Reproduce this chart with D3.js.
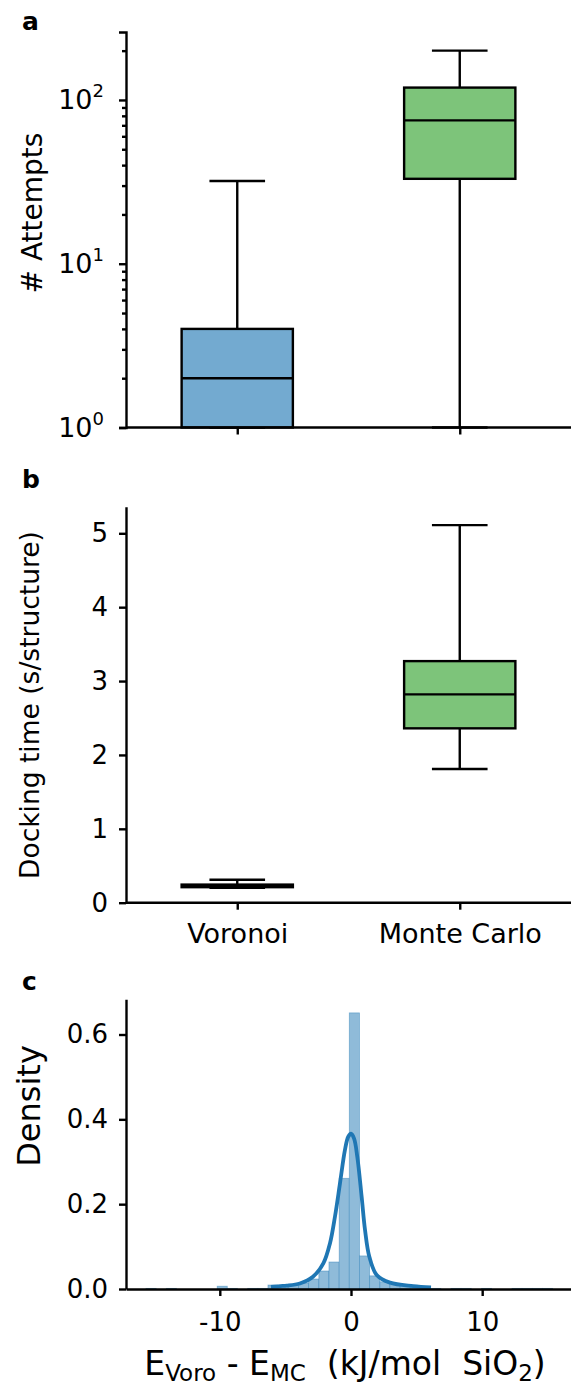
<!DOCTYPE html>
<html>
<head>
<meta charset="utf-8">
<script src="https://cdn.jsdelivr.net/npm/d3@7"></script>
<style>
  body { margin: 0; background: #fff; }
  text { font-family: "DejaVu Sans", sans-serif; fill: #000; white-space: pre; }
</style>
</head>
<body>
<script>
// ---- data ----
const categories = ["Voronoi", "Monte Carlo"];
// [whisker low, q1, median, q3, whisker high]
const attemptsVoronoi = [1, 1, 2, 4, 32];
const attemptsMonteCarlo = [1, 33, 75, 119, 200];
const timeVoronoi = [0.20, 0.21, 0.225, 0.245, 0.31];
const timeMonteCarlo = [1.81, 2.36, 2.82, 3.27, 5.11];

// histogram of E_Voro - E_MC (density), bin edges in kJ/mol SiO2
const binEdges = [-15.63, -14.85, -14.08, -13.30, -12.53, -11.75, -10.98, -10.20, -9.43, -8.65,
  -7.88, -7.10, -6.33, -5.55, -4.78, -4.00, -3.23, -2.45, -1.68, -0.90,
  -0.13, 0.65, 1.42, 2.20, 2.97, 3.75, 4.52, 5.30, 6.07, 6.85,
  7.62, 8.40, 9.17, 9.95, 10.72, 11.50, 12.27, 13.05, 13.82, 14.60, 15.37];
const binDensity = [0.0015, 0, 0.0015, 0, 0, 0, 0, 0.0066, 0.0015, 0,
  0.0015, 0.0015, 0.0094, 0.006, 0.008, 0.014, 0.0236, 0.0425, 0.0637, 0.261,
  0.651, 0.078, 0.031, 0.017, 0.010, 0.008, 0.005, 0.003, 0.0015, 0,
  0.0015, 0.0015, 0, 0.0015, 0, 0, 0.0015, 0.0015, 0.0015, 0.0015];
const kdeX = [-6.1, -5.4, -4.9, -3.9, -2.9, -2.1, -1.6, -1.22, -0.84, -0.46, -0.21, 0,
  0.23, 0.48, 0.81, 1.07, 1.4, 1.96, 2.97, 4.75, 6.1];
const kdeY = [0.005, 0.007, 0.008, 0.013, 0.029, 0.061, 0.108, 0.171, 0.249, 0.328, 0.359, 0.366,
  0.355, 0.312, 0.218, 0.139, 0.076, 0.033, 0.015, 0.007, 0.004];
const attemptTicks = [1, 10, 100];
const attemptExp = ["0", "1", "2"];
const attemptMinor = [2, 3, 4, 5, 6, 7, 8, 9, 20, 30, 40, 50, 60, 70, 80, 90, 200];
const timeTicks = [0, 1, 2, 3, 4, 5];
const densityTicks = [0, 0.2, 0.4, 0.6];
const energyTicks = [-10, 0, 10];

const W = 571, H = 1387;
const left = 126, right = 571;
const boxColors = ["#73aad0", "#7dc47a"];
const lw = 2.4;

const svg = d3.select("body").append("svg")
    .attr("width", W)
    .attr("height", H);

// shared x for the two box plots
const x = d3.scalePoint().domain(categories).range([left, right]).padding(0.5);
const boxW = x.step() * 0.5;
const capW = x.step() * 0.25;

function styleAxis(g) {
    g.selectAll("path.domain").attr("stroke", "#000").attr("stroke-width", lw);
    g.selectAll(".tick line").attr("stroke", "#000").attr("stroke-width", lw);
    g.selectAll(".tick text").attr("font-size", 26).attr("fill", "#000")
        .attr("font-family", "DejaVu Sans");
}

function drawBoxes(y, stats) {
    stats.forEach(function(s, i) {
        const cx = x(categories[i]);
        const g = svg.append("g");
        // whiskers
        g.append("line").attr("x1", cx).attr("x2", cx).attr("y1", y(s[0])).attr("y2", y(s[1]))
            .attr("stroke", "#000").attr("stroke-width", lw);
        g.append("line").attr("x1", cx).attr("x2", cx).attr("y1", y(s[3])).attr("y2", y(s[4]))
            .attr("stroke", "#000").attr("stroke-width", lw);
        // caps
        [s[0], s[4]].forEach(function(v) {
            g.append("line").attr("x1", cx - capW / 2).attr("x2", cx + capW / 2)
                .attr("y1", y(v)).attr("y2", y(v))
                .attr("stroke", "#000").attr("stroke-width", lw);
        });
        // box
        g.append("rect").attr("x", cx - boxW / 2).attr("width", boxW)
            .attr("y", y(s[3])).attr("height", y(s[1]) - y(s[3]))
            .attr("fill", boxColors[i]).attr("stroke", "#000").attr("stroke-width", lw);
        // median
        g.append("line").attr("x1", cx - boxW / 2).attr("x2", cx + boxW / 2)
            .attr("y1", y(s[2])).attr("y2", y(s[2]))
            .attr("stroke", "#000").attr("stroke-width", lw);
    });
}

function panelLetter(t, px, py) {
    svg.append("text").attr("x", px).attr("y", py).text(t)
        .attr("font-size", 25).attr("font-weight", "bold");
}

// ---- panel a: attempts (log) ----
const yA = d3.scaleLog().domain([1, 260]).range([427.5, 32]);
drawBoxes(yA, [attemptsVoronoi, attemptsMonteCarlo]);

const axA = svg.append("g").attr("transform", `translate(${left},0)`)
    .call(d3.axisLeft(yA).tickValues(attemptTicks).tickSize(7).tickFormat(""));
svg.append("g").attr("transform", `translate(${left},0)`)
    .call(d3.axisLeft(yA).tickValues(attemptMinor).tickSize(4).tickFormat(""))
    .call(styleAxis)
    .select("path.domain").remove();
styleAxis(axA);
attemptTicks.forEach(function(v, i) {
    const t = svg.append("text").attr("x", 104).attr("y", yA(v) + 9)
        .attr("text-anchor", "end").attr("font-size", 27);
    t.append("tspan").text("10");
    t.append("tspan").text(attemptExp[i]).attr("font-size", 18).attr("dy", -12);
});
const axAx = svg.append("g").attr("transform", `translate(0,${yA(1)})`)
    .call(d3.axisBottom(x).tickSize(7).tickSizeOuter(0).tickFormat(""));
styleAxis(axAx);
axAx.select("path.domain").attr("d", `M${left},0H${right}`);

svg.append("text").attr("transform", "translate(42,213) rotate(-90)")
    .attr("text-anchor", "middle").attr("font-size", 28).text("# Attempts");
panelLetter("a", 22, 30);

// ---- panel b: docking time ----
const yB = d3.scaleLinear().domain([0, 5.36]).range([902.7, 506.7]);
drawBoxes(yB, [timeVoronoi, timeMonteCarlo]);

const axB = svg.append("g").attr("transform", `translate(${left},0)`)
    .call(d3.axisLeft(yB).tickValues(timeTicks).tickSize(7).tickSizeOuter(0).tickPadding(11)
        .tickFormat(d3.format("d")));
styleAxis(axB);
const axBx = svg.append("g").attr("transform", `translate(0,${yB(0)})`)
    .call(d3.axisBottom(x).tickSize(7).tickSizeOuter(0));
styleAxis(axBx);
axBx.select("path.domain").attr("d", `M${left},0H${right}`);
axBx.selectAll(".tick text").attr("y", 21).attr("font-size", 27);

svg.append("text").attr("transform", "translate(39,705) rotate(-90)")
    .attr("text-anchor", "middle").attr("font-size", 26.5).text("Docking time (s/structure)");
panelLetter("b", 22, 488);

// ---- panel c: energy difference histogram ----
const xC = d3.scaleLinear().domain([-17.15, 16.77]).range([left, right]);
const yC = d3.scaleLinear().domain([0, 0.683]).range([1289, 999.3]);

svg.append("g").selectAll("rect").data(binDensity).join("rect")
    .attr("x", (d, i) => xC(binEdges[i]))
    .attr("width", (d, i) => xC(binEdges[i + 1]) - xC(binEdges[i]))
    .attr("y", d => yC(d))
    .attr("height", d => yC(0) - yC(d))
    .attr("fill", "#8fbbd9")
    .attr("stroke", "#1f77b4").attr("stroke-opacity", 0.45).attr("stroke-width", 0.8);

const kdeLine = d3.line()
    .x((d, i) => xC(kdeX[i]))
    .y(d => yC(d))
    .curve(d3.curveCatmullRom);
svg.append("path").datum(kdeY).attr("d", kdeLine)
    .attr("fill", "none").attr("stroke", "#1f77b4").attr("stroke-width", 3.8)
    .attr("stroke-linejoin", "round");

const axC = svg.append("g").attr("transform", `translate(${left},0)`)
    .call(d3.axisLeft(yC).tickValues(densityTicks).tickSize(7).tickSizeOuter(0).tickPadding(11)
        .tickFormat(d3.format(".1f")));
styleAxis(axC);
const axCx = svg.append("g").attr("transform", `translate(0,${yC(0)})`)
    .call(d3.axisBottom(xC).tickValues(energyTicks).tickSize(7).tickSizeOuter(0)
        .tickFormat(d => String(d)));
styleAxis(axCx);
axCx.selectAll(".tick text").attr("y", 24);

svg.append("text").attr("transform", "translate(40,1106) rotate(-90)")
    .attr("text-anchor", "middle").attr("font-size", 32).text("Density");

const xl = svg.append("text").attr("x", 345).attr("y", 1375)
    .attr("text-anchor", "middle").attr("font-size", 33);
xl.append("tspan").text("E");
xl.append("tspan").text("Voro").attr("font-size", 23).attr("dy", 6);
xl.append("tspan").text(" - E").attr("dy", -6);
xl.append("tspan").text("MC").attr("font-size", 23).attr("dy", 6);
xl.append("tspan").text("  (kJ/mol  SiO").attr("dy", -6);
xl.append("tspan").text("2").attr("font-size", 23).attr("dy", 6);
xl.append("tspan").text(")").attr("dy", -6);
panelLetter("c", 22, 990);
</script>
</body>
</html>
